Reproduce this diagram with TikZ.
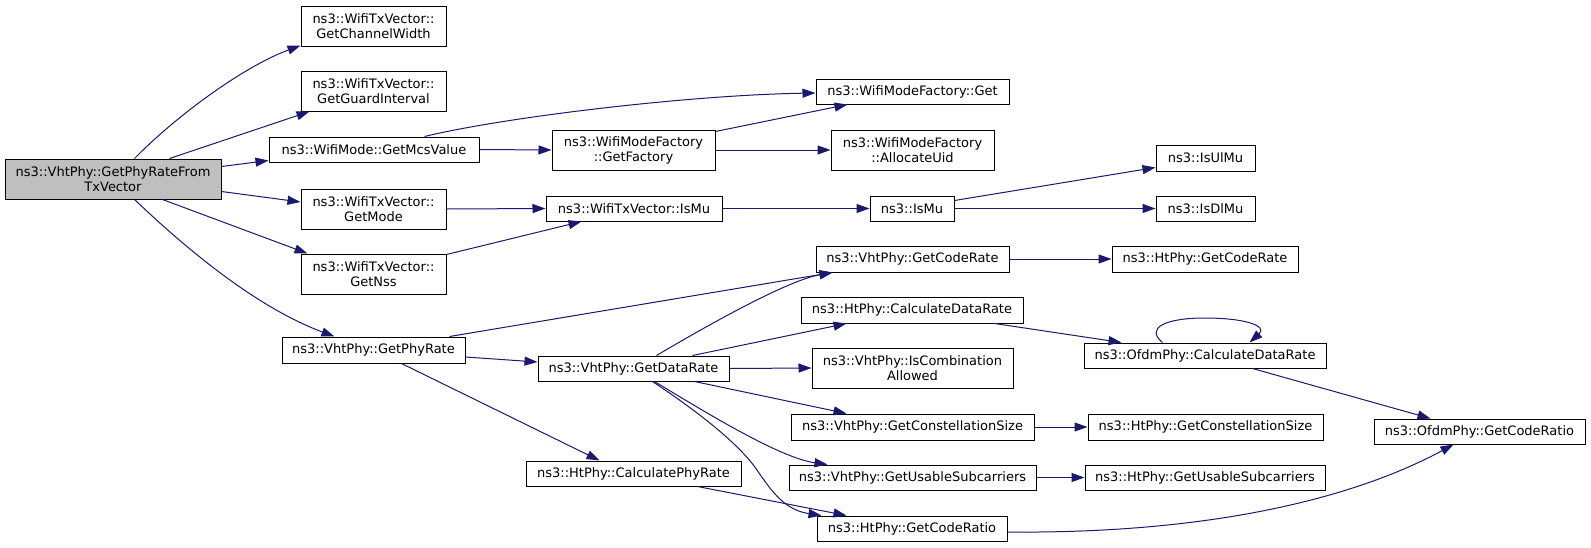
\documentclass[tikz,border=0pt]{standalone}
\usepackage{fontspec}
\setmainfont{DejaVu Sans}
\usetikzlibrary{arrows.meta}
\definecolor{edgeblue}{RGB}{25,25,112}
\definecolor{rootgray}{RGB}{191,191,191}
\begin{document}
\begin{tikzpicture}[x=1pt,y=-1pt,
  fn/.style={draw=black, line width=1pt, fill=white, inner sep=0pt, align=center,
             font=\fontsize{13}{15}\selectfont},
  call/.style={draw=edgeblue, line width=1pt, -{Triangle[length=13pt,width=9pt,fill=edgeblue]}}]
\useasboundingbox[fill=white] (0,0) rectangle (1591,547);

% nodes
\node[fn, fill=rootgray, minimum width=216pt, minimum height=40pt] (root) at (113,179) {ns3::VhtPhy::GetPhyRateFrom\\TxVector};
\node[fn, minimum width=145pt, minimum height=40pt] (cw) at (373.5,26) {ns3::WifiTxVector::\\GetChannelWidth};
\node[fn, minimum width=145pt, minimum height=40pt] (gi) at (373.5,91) {ns3::WifiTxVector::\\GetGuardInterval};
\node[fn, minimum width=210pt, minimum height=25pt] (mcs) at (374,149.5) {ns3::WifiMode::GetMcsValue};
\node[fn, minimum width=145pt, minimum height=40pt] (mode) at (373.5,209) {ns3::WifiTxVector::\\GetMode};
\node[fn, minimum width=145pt, minimum height=40pt] (nss) at (373.5,274) {ns3::WifiTxVector::\\GetNss};
\node[fn, minimum width=183pt, minimum height=26pt] (phyrate) at (373.5,350) {ns3::VhtPhy::GetPhyRate};

\node[fn, minimum width=163pt, minimum height=40pt] (factory) at (633.5,150) {ns3::WifiModeFactory\\::GetFactory};
\node[fn, minimum width=176pt, minimum height=25pt] (txmu) at (634,208.5) {ns3::WifiTxVector::IsMu};
\node[fn, minimum width=191pt, minimum height=25pt] (vdatarate) at (633.5,368.5) {ns3::VhtPhy::GetDataRate};
\node[fn, minimum width=215pt, minimum height=25pt] (calcphyrate) at (633.5,473.5) {ns3::HtPhy::CalculatePhyRate};

\node[fn, minimum width=193pt, minimum height=25pt] (get) at (912.5,91.5) {ns3::WifiModeFactory::Get};
\node[fn, minimum width=163pt, minimum height=40pt] (alloc) at (912.5,150) {ns3::WifiModeFactory\\::AllocateUid};
\node[fn, minimum width=84pt, minimum height=25pt] (ismu) at (912,208.5) {ns3::IsMu};
\node[fn, minimum width=193pt, minimum height=26pt] (vcoderate) at (912.5,259) {ns3::VhtPhy::GetCodeRate};
\node[fn, minimum width=222pt, minimum height=26pt] (hcalcdr) at (912,310) {ns3::HtPhy::CalculateDataRate};
\node[fn, minimum width=201pt, minimum height=40pt] (iscomb) at (912.5,368) {ns3::VhtPhy::IsCombination\\Allowed};
\node[fn, minimum width=243pt, minimum height=26pt] (vconst) at (912.5,427) {ns3::VhtPhy::GetConstellationSize};
\node[fn, minimum width=247pt, minimum height=25pt] (vusable) at (912.5,477.5) {ns3::VhtPhy::GetUsableSubcarriers};
\node[fn, minimum width=190pt, minimum height=25pt] (hcoderatio) at (912,528.5) {ns3::HtPhy::GetCodeRatio};

\node[fn, minimum width=99pt, minimum height=26pt] (ulmu) at (1205.5,158) {ns3::IsUlMu};
\node[fn, minimum width=99pt, minimum height=25pt] (dlmu) at (1205.5,208.5) {ns3::IsDlMu};
\node[fn, minimum width=186pt, minimum height=26pt] (hcoderate) at (1205,259) {ns3::HtPhy::GetCodeRate};
\node[fn, minimum width=242pt, minimum height=25pt] (ocalcdr) at (1205,355.5) {ns3::OfdmPhy::CalculateDataRate};
\node[fn, minimum width=235pt, minimum height=26pt] (hconst) at (1205.5,427) {ns3::HtPhy::GetConstellationSize};
\node[fn, minimum width=240pt, minimum height=25pt] (husable) at (1205,477.5) {ns3::HtPhy::GetUsableSubcarriers};

\node[fn, minimum width=211pt, minimum height=25pt] (ocoderatio) at (1479.5,431.5) {ns3::OfdmPhy::GetCodeRatio};

\coordinate (bendA) at (757,470);
\coordinate (loopTop) at (1205,318);

% edges
\draw[call] ([shift={(130,0)}]root.north west) .. controls (172,120) and (240,68) .. ([shift={(0,-1)}]cw.south west);
\draw[call] ([shift={(165,0)}]root.north west) -- ([shift={(9,0)}]gi.south west);
\draw[call] ([shift={(0,8)}]root.north east) -- ([shift={(0,-2)}]mcs.south west);
\draw[call] ([shift={(0,33)}]root.north east) -- ([shift={(0,-7)}]mode.west);
\draw[call] ([shift={(158,0)}]root.south west) -- ([shift={(7,0)}]nss.north west);
\draw[call] ([shift={(130,0)}]root.south west) .. controls (175,238) and (250,305) .. ([shift={(53,0)}]phyrate.north west);

\draw[call] ([shift={(156,0)}]mcs.north west) .. controls (505,117) and (690,95) .. ([shift={(0,1.5)}]get.west);
\draw[call] (mcs.east) -- (factory.west);
\draw[call] ([shift={(0,2)}]factory.north east) -- ([shift={(32,0)}]get.south west);
\draw[call] (factory.east) -- (alloc.west);
\draw[call] (mode.east) -- (txmu.west);
\draw[call] ([shift={(0,1)}]nss.north east) -- ([shift={(36,0)}]txmu.south west);
\draw[call] (txmu.east) -- (ismu.west);
\draw[call] ([shift={(0,5)}]ismu.north east) -- ([shift={(0,-4)}]ulmu.south west);
\draw[call] (ismu.east) -- (dlmu.west);

\draw[call] ([shift={(168,0)}]phyrate.north west) -- ([shift={(17,0)}]vcoderate.south west);
\draw[call] ([shift={(0,7)}]phyrate.east) -- ([shift={(0,-6.5)}]vdatarate.west);
\draw[call] ([shift={(120,0)}]phyrate.south west) -- ([shift={(74,0)}]calcphyrate.north west);

\draw[call] ([shift={(119,0)}]vdatarate.north west) .. controls (720,318) and (790,280) .. ([shift={(17,0)}]vcoderate.south west);
\draw[call] ([shift={(155,0)}]vdatarate.north west) -- ([shift={(46,0)}]hcalcdr.south west);
\draw[call] (vdatarate.east) -- (iscomb.west);
\draw[call] ([shift={(157,0)}]vdatarate.south west) -- ([shift={(56,0)}]vconst.north west);
\draw[call] ([shift={(117,0)}]vdatarate.south west) .. controls (705,412) and (780,458) .. ([shift={(39,0)}]vusable.north west);
\draw[call] ([shift={(115,0)}]vdatarate.south west) .. controls (700,413) and (740,445) .. (bendA) .. controls (772,492) and (785,510) .. ([shift={(5,0)}]hcoderatio.north west);
\draw[call] ([shift={(172,0)}]calcphyrate.south west) -- ([shift={(30,0)}]hcoderatio.north west);

\draw[call] (vcoderate.east) -- (hcoderate.west);
\draw[call] ([shift={(194,0)}]hcalcdr.south west) -- ([shift={(38,0)}]ocalcdr.north west);
\draw[call] ([shift={(79,0)}]ocalcdr.north west) .. controls (1145,328) and (1165,318) .. (loopTop) .. controls (1245,318) and (1268,326) .. ([shift={(166,0)}]ocalcdr.north west);
\draw[call] ([shift={(169,0)}]ocalcdr.south west) -- ([shift={(57,0)}]ocoderatio.north west);
\draw[call] (vconst.east) -- (hconst.west);
\draw[call] (vusable.east) -- (husable.west);
\draw[call] ([shift={(0,3.5)}]hcoderatio.east) .. controls (1220,534) and (1360,495) .. ([shift={(80,0)}]ocoderatio.south west);
\end{tikzpicture}
\end{document}
